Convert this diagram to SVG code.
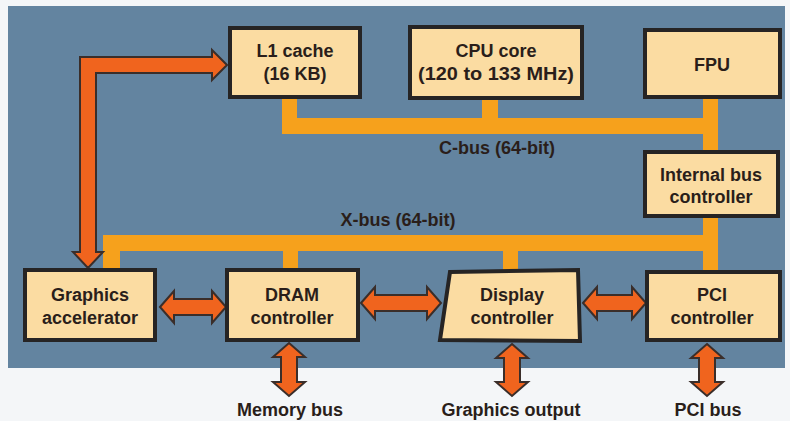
<svg xmlns="http://www.w3.org/2000/svg" width="790" height="421" viewBox="0 0 790 421">
<style>
.box{fill:#fbdca2;stroke:#262424;stroke-width:4}
.t{font-family:"Liberation Sans",Arial,sans-serif;font-weight:bold;font-size:18px;fill:#2a1e1a;text-anchor:middle}
.bus{fill:#f6a11c}
.arr{fill:#f0641e;stroke:#3a2e2a;stroke-width:2;stroke-linejoin:miter}
</style>
<rect x="0" y="0" width="790" height="421" fill="#f4f6f8"/>
<rect x="8" y="6" width="777" height="362" fill="#6384a0"/>
<g id="connectors">
<!-- C-bus -->
<path class="bus" d="M282,97 H297 V118 H482 V97 H498 V118 H703 V97 H718 V152 H703 V134 H282 Z"/>
<!-- X-bus -->
<path class="bus" d="M103,270 V235 H703 V216 H718 V272 H703 V251 H518 V272 H503 V251 H298 V270 H283 V251 H120 V270 Z"/>
<!-- L-shaped arrow -->
<polygon class="arr" points="227,65 212,50 212,57 80,57 80,252 73,252 88,268 103,252 96,252 96,73 212,73 212,80"/>
<!-- horizontal double arrows -->
<polygon class="arr" points="160,307 174,291 174,299 212,299 212,291 226,307 212,323 212,315 174,315 174,323"/>
<polygon class="arr" points="361,303 375,287 375,295 427,295 427,287 441,303 427,319 427,311 375,311 375,319"/>
<polygon class="arr" points="583,303 597,287 597,295 632,295 632,287 646,303 632,319 632,311 597,311 597,319"/>
<!-- vertical double arrows -->
<polygon class="arr" points="289,343 305,357 297,357 297,382 305,382 289,396 273,382 281,382 281,357 273,357"/>
<polygon class="arr" points="512,344 528,358 520,358 520,382 528,382 512,396 496,382 504,382 504,358 496,358"/>
<polygon class="arr" points="707,344 723,358 715,358 715,382 723,382 707,396 691,382 699,382 699,358 691,358"/>
</g>
<g id="l1cache"><rect class="box" x="230" y="28" width="130" height="69"/><text class="t" x="295" y="57">L1 cache</text><text class="t" x="295" y="80">(16 KB)</text></g>
<g id="cpucore"><rect class="box" x="410" y="27" width="172" height="71"/><text class="t" x="496" y="57">CPU core</text><text class="t" x="496" y="80" textLength="156" lengthAdjust="spacingAndGlyphs">(120 to 133 MHz)</text></g>
<g id="fpu"><rect class="box" x="645" y="30" width="135" height="67"/><text class="t" x="712" y="71">FPU</text></g>
<g id="ibc"><rect class="box" x="645" y="152" width="133" height="64"/><text class="t" x="711" y="181">Internal bus</text><text class="t" x="711" y="203">controller</text></g>
<g id="ga"><rect class="box" x="25" y="270" width="130" height="70"/><text class="t" x="90" y="301">Graphics</text><text class="t" x="90" y="324">accelerator</text></g>
<g id="dram"><rect class="box" x="227" y="270" width="131" height="70"/><text class="t" x="292" y="301">DRAM</text><text class="t" x="292" y="324">controller</text></g>
<g id="display"><polygon class="box" points="450,272 578,270 580,341 440,340"/><text class="t" x="512" y="301">Display</text><text class="t" x="512" y="324">controller</text></g>
<g id="pci"><rect class="box" x="647" y="272" width="133" height="68"/><text class="t" x="712" y="301">PCI</text><text class="t" x="712" y="324">controller</text></g>
<g id="labels">
<text class="t" x="497" y="154">C-bus (64-bit)</text>
<text class="t" x="398" y="226">X-bus (64-bit)</text>
<text class="t" x="290" y="416">Memory bus</text>
<text class="t" x="511" y="416">Graphics output</text>
<text class="t" x="708" y="416">PCI bus</text>
</g>
</svg>
